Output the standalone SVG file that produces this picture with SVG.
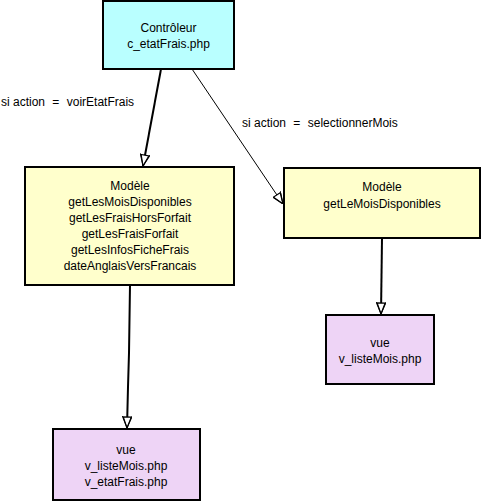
<svg xmlns="http://www.w3.org/2000/svg" width="482" height="503" viewBox="0 0 482 503">
  <style>
    .box { stroke: #000; stroke-width: 2; }
    .ctrl { fill: #b9ffff; }
    .model { fill: #ffffcc; }
    .view { fill: #eed4f6; }
    text { font-family: "Liberation Sans", Arial, sans-serif; font-size: 12px; fill: #000; }
    .c { text-anchor: middle; }
    .edge { fill: none; stroke: #000; }
    .thick { stroke-width: 2; }
    .thin { stroke-width: 1; }
  </style>
  <defs>
    <marker id="open" viewBox="0 0 12 10" refX="12" refY="5" markerWidth="12" markerHeight="10" markerUnits="userSpaceOnUse" orient="auto">
      <path d="M1,1 L12,5 L1,9 Z" fill="#fff" stroke="#000" stroke-width="1.2"/>
      <path d="M0,0 L12,5 L0,10" fill="none" stroke="#000" stroke-width="1"/>
    </marker>
  </defs>

  <g id="connectors">
    <path class="edge thick" d="M161,69 L143,166" marker-end="url(#open)"/>
    <path class="edge thin" d="M192,69 L283,204" marker-end="url(#open)"/>
    <path class="edge thick" d="M382,238 L381,314" marker-end="url(#open)"/>
    <path class="edge thick" d="M130,285 L129,353 L128,387 L127,428" marker-end="url(#open)"/>
    <text x="1" y="106">si action<tspan dx="4"> =</tspan><tspan dx="4"> voirEtatFrais</tspan></text>
    <text x="242" y="127">si action<tspan dx="4"> =</tspan><tspan dx="4"> selectionnerMois</tspan></text>
  </g>

  <g id="controleur">
    <rect class="box ctrl" x="103" y="1" width="131" height="68"/>
    <text class="c" x="168.5" y="32">Contrôleur</text>
    <text class="c" x="168.5" y="48">c_etatFrais.php</text>
  </g>

  <g id="modele-etat">
    <rect class="box model" x="25" y="167" width="209" height="118"/>
    <text class="c" x="130" y="190">Modèle</text>
    <text class="c" x="130" y="206">getLesMoisDisponibles</text>
    <text class="c" x="130" y="222">getLesFraisHorsForfait</text>
    <text class="c" x="130" y="238">getLesFraisForfait</text>
    <text class="c" x="130" y="254">getLesInfosFicheFrais</text>
    <text class="c" x="130" y="270">dateAnglaisVersFrancais</text>
  </g>

  <g id="modele-mois">
    <rect class="box model" x="284" y="168" width="196" height="70"/>
    <text class="c" x="382" y="191">Modèle</text>
    <text class="c" x="382" y="208">getLeMoisDisponibles</text>
  </g>

  <g id="vue-mois">
    <rect class="box view" x="326" y="315" width="108" height="69"/>
    <text class="c" x="380" y="347">vue</text>
    <text class="c" x="380" y="363">v_listeMois.php</text>
  </g>

  <g id="vue-etat">
    <rect class="box view" x="53" y="429" width="147" height="71"/>
    <text class="c" x="126" y="454">vue</text>
    <text class="c" x="126" y="470">v_listeMois.php</text>
    <text class="c" x="126" y="486">v_etatFrais.php</text>
  </g>
</svg>
